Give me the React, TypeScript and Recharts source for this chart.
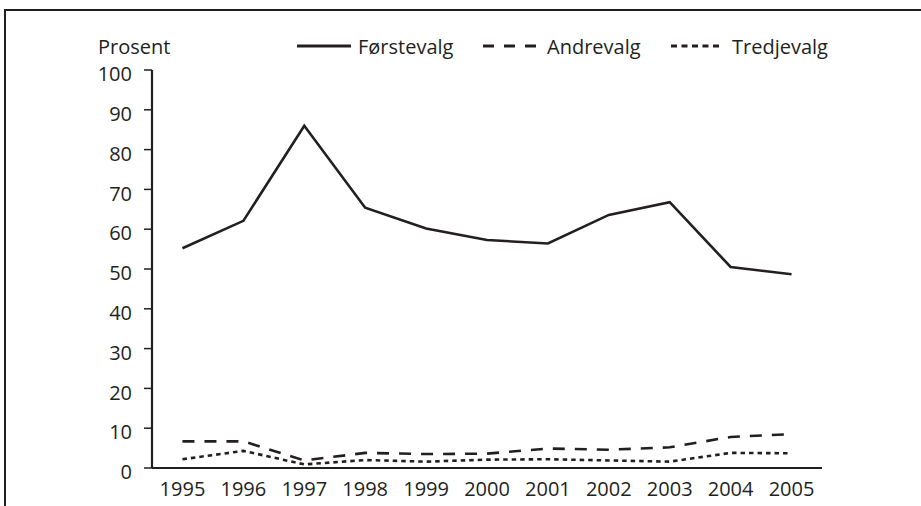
import React from 'react';
import { LineChart, Line, XAxis, YAxis } from 'recharts';

const years = ['1995', '1996', '1997', '1998', '1999', '2000', '2001', '2002', '2003', '2004', '2005'];
const forstevalg = [55.2, 62.1, 86.0, 65.4, 60.2, 57.3, 56.4, 63.6, 66.8, 50.5, 48.7];
const andrevalg = [6.7, 6.7, 1.9, 3.8, 3.5, 3.6, 4.9, 4.6, 5.2, 7.8, 8.5];
const tredjevalg = [2.2, 4.3, 0.9, 2.0, 1.6, 2.1, 2.2, 1.9, 1.6, 3.8, 3.7];
const yTicks = [0, 10, 20, 30, 40, 50, 60, 70, 80, 90, 100];
const yLabel = 'Prosent';

const INK = '#231f20';
const FONT = '"Open Sans", "Noto Sans", sans-serif';
const FS = 20;

const series = [
  { key: 'forstevalg', name: 'Førstevalg', dash: undefined as string | undefined, legendDash: undefined as string | undefined, lx: 297, tx: 358 },
  { key: 'andrevalg', name: 'Andrevalg', dash: '12 10', legendDash: '11 10', lx: 483, tx: 547 },
  { key: 'tredjevalg', name: 'Tredjevalg', dash: '4.5 4', legendDash: '6 4.5', lx: 671, tx: 732 },
];

const data = years.map((year, i) => ({
  year,
  forstevalg: forstevalg[i],
  andrevalg: andrevalg[i],
  tredjevalg: tredjevalg[i],
}));

const YTick = (props: any) => {
  const { x, y, payload } = props;
  return (
    <text x={x} y={y + 4} dy="0.355em" textAnchor="end" fill={INK} fontFamily={FONT} fontSize={FS}>
      {payload.value}
    </text>
  );
};

const XTick = (props: any) => {
  const { x, y, payload } = props;
  return (
    <text x={x} y={y} dy="0.71em" textAnchor="middle" fill={INK} fontFamily={FONT} fontSize={FS}>
      {payload.value}
    </text>
  );
};

export default function App() {
  return (
    <div style={{ position: 'absolute', left: 0, top: 0, width: 921, height: 506, overflow: 'hidden', background: '#fff' }}>
      <div style={{ position: 'absolute', left: 4, top: 9, width: 1200, height: 1200, borderTop: `2.5px solid ${INK}`, borderLeft: `2.5px solid ${INK}`, boxSizing: 'border-box' }} />
      <svg width={921} height={80} style={{ position: 'absolute', left: 0, top: 0 }}>
        <text x={98} y={54} fill={INK} fontFamily={FONT} fontSize={FS}>{yLabel}</text>
        {series.map((s) => (
          <g key={s.key}>
            <line x1={s.lx} x2={s.lx + (s.key === 'tredjevalg' ? 49 : 54)} y1={46} y2={46} stroke={INK} strokeWidth={2.8} strokeDasharray={s.legendDash} />
            <text x={s.tx} y={54} fill={INK} fontFamily={FONT} fontSize={FS}>{s.name}</text>
          </g>
        ))}
      </svg>
      <div style={{ position: 'absolute', left: 0, top: 0 }}>
        <LineChart width={921} height={506} data={data} margin={{ top: 70, right: 99, left: 0, bottom: 0 }}>
          <XAxis
            dataKey="year"
            scale="band"
            interval={0}
            height={38}
            tickSize={0}
            tickMargin={14}
            tickLine={false}
            axisLine={{ stroke: INK, strokeWidth: 2.2 }}
            tick={<XTick />}
          />
          <XAxis
            xAxisId="top"
            orientation="top"
            dataKey="year"
            scale="band"
            height={0}
            tick={false}
            tickLine={false}
            axisLine={{ stroke: INK, strokeWidth: 2.2 }}
          />
          <YAxis
            domain={[0, 100]}
            ticks={yTicks}
            interval={0}
            width={152}
            tickSize={8}
            tickMargin={12}
            tickLine={{ stroke: INK, strokeWidth: 1.5 }}
            axisLine={{ stroke: INK, strokeWidth: 2.2 }}
            tick={<YTick />}
          />
          <YAxis
            yAxisId="right"
            orientation="right"
            domain={[0, 100]}
            width={0}
            tick={false}
            tickLine={false}
            axisLine={{ stroke: INK, strokeWidth: 2.2 }}
          />
          {series.map((s) => (
            <Line
              key={s.key}
              type="linear"
              dataKey={s.key}
              name={s.name}
              stroke={INK}
              strokeWidth={2.6}
              strokeDasharray={s.dash}
              dot={false}
              activeDot={false}
              isAnimationActive={false}
            />
          ))}
        </LineChart>
      </div>
    </div>
  );
}
